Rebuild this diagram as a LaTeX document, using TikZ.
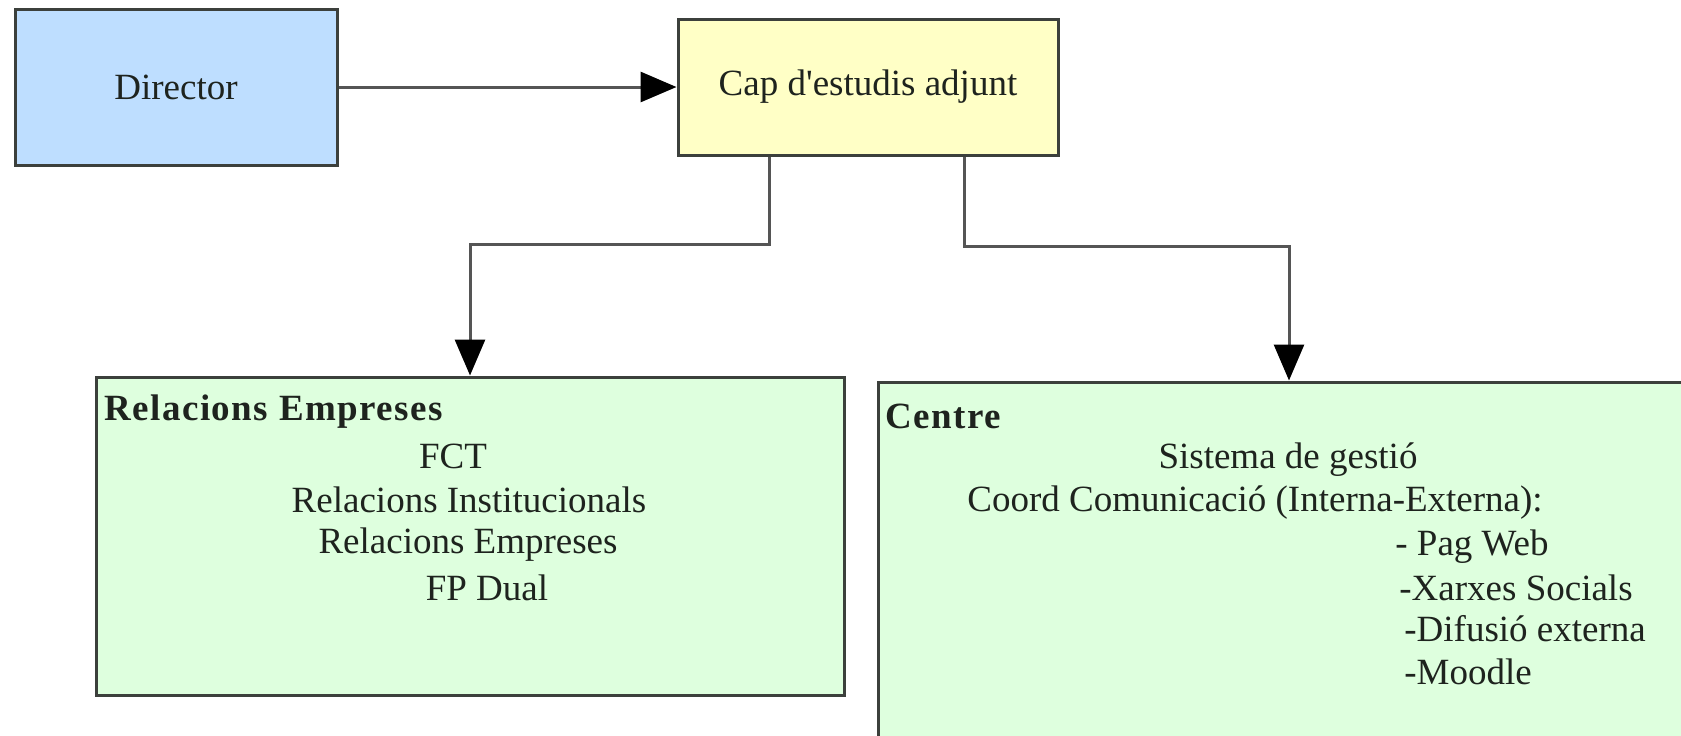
\documentclass[tikz,border=0pt]{standalone}
\usepackage{fontspec}
\setmainfont{Liberation Serif}[Ligatures=TeXOff]
\newfontfamily\hdfont{Liberation Serif}[LetterSpace=4,Ligatures=TeXOff]
\usetikzlibrary{arrows.meta}
\definecolor{dirblue}{RGB}{190,222,255}
\definecolor{capyel}{RGB}{255,255,198}
\definecolor{boxgreen}{RGB}{222,255,222}
\definecolor{edgec}{RGB}{60,64,60}
\definecolor{conngray}{RGB}{85,85,85}
\definecolor{txt}{RGB}{30,35,30}
\begin{document}
\begin{tikzpicture}[x=0.5pt,y=-0.5pt,
  box/.style={draw=edgec,line width=1.5pt,inner sep=0pt,anchor=center},
  lbl/.style={font=\fontsize{18.5}{22}\selectfont, text=txt, inner sep=0pt},
  hd/.style={font=\hdfont\bfseries\fontsize{18.5}{22}\selectfont, text=txt, inner sep=0pt, anchor=west},
  item/.style={lbl, anchor=west},
  conn/.style={draw=conngray, line width=1.5pt, -{Triangle[length=18pt,width=15pt,color=black,fill=black]}}]
\useasboundingbox (0,0) rectangle (1681,735);
\fill[white] (0,0) rectangle (1681,735);
% boxes
\node[box, fill=dirblue, minimum width=161pt, minimum height=78pt] (dir) at (176,87) {};
\node[box, fill=capyel, minimum width=190pt, minimum height=68pt] (cap) at (868,87) {};
\node[box, fill=boxgreen, minimum width=374pt, minimum height=159pt] (rel) at (470,536) {};
\begin{scope}
\clip (0,0) rectangle (1681,735);
\node[box, fill=boxgreen, minimum width=411pt, minimum height=189pt] (ctr) at (1289,571) {};
\end{scope}
% labels
\node[lbl] (tdir) at (176,87) {Director};
\node[lbl] (tcap) at (868,87) {Cap d'estudis adjunt};
\node[hd] (hrel) at (104,412) {Relacions Empreses};
\node[lbl] (r1) at (453,456) {FCT};
\node[lbl] (r2) at (469,500) {Relacions Institucionals};
\node[lbl] (r3) at (468,545) {Relacions Empreses};
\node[lbl] (r4) at (487,588) {FP Dual};
\node[hd] (hctr) at (885,416) {Centre};
\node[lbl] (c1) at (1288,460) {Sistema de gestió};
\node[lbl] (c2) at (1255,503) {Coord Comunicació (Interna-Externa):};
\node[item] (c3) at (1395,547) {- Pag Web};
\node[item] (c4) at (1399,588) {-Xarxes Socials};
\node[item] (c5) at (1404,629) {-Difusió externa};
\node[item] (c6) at (1404,672) {-Moodle};
% connectors
\draw[conn] (dir.east) -- (cap.west);
\draw[conn] ([xshift=46.5pt]cap.south west) -- ++(0,88) -| (rel.north);
\draw[conn] ([xshift=-47.5pt]cap.south east) -- ++(0,90) -| (ctr.north);
\end{tikzpicture}
\end{document}
